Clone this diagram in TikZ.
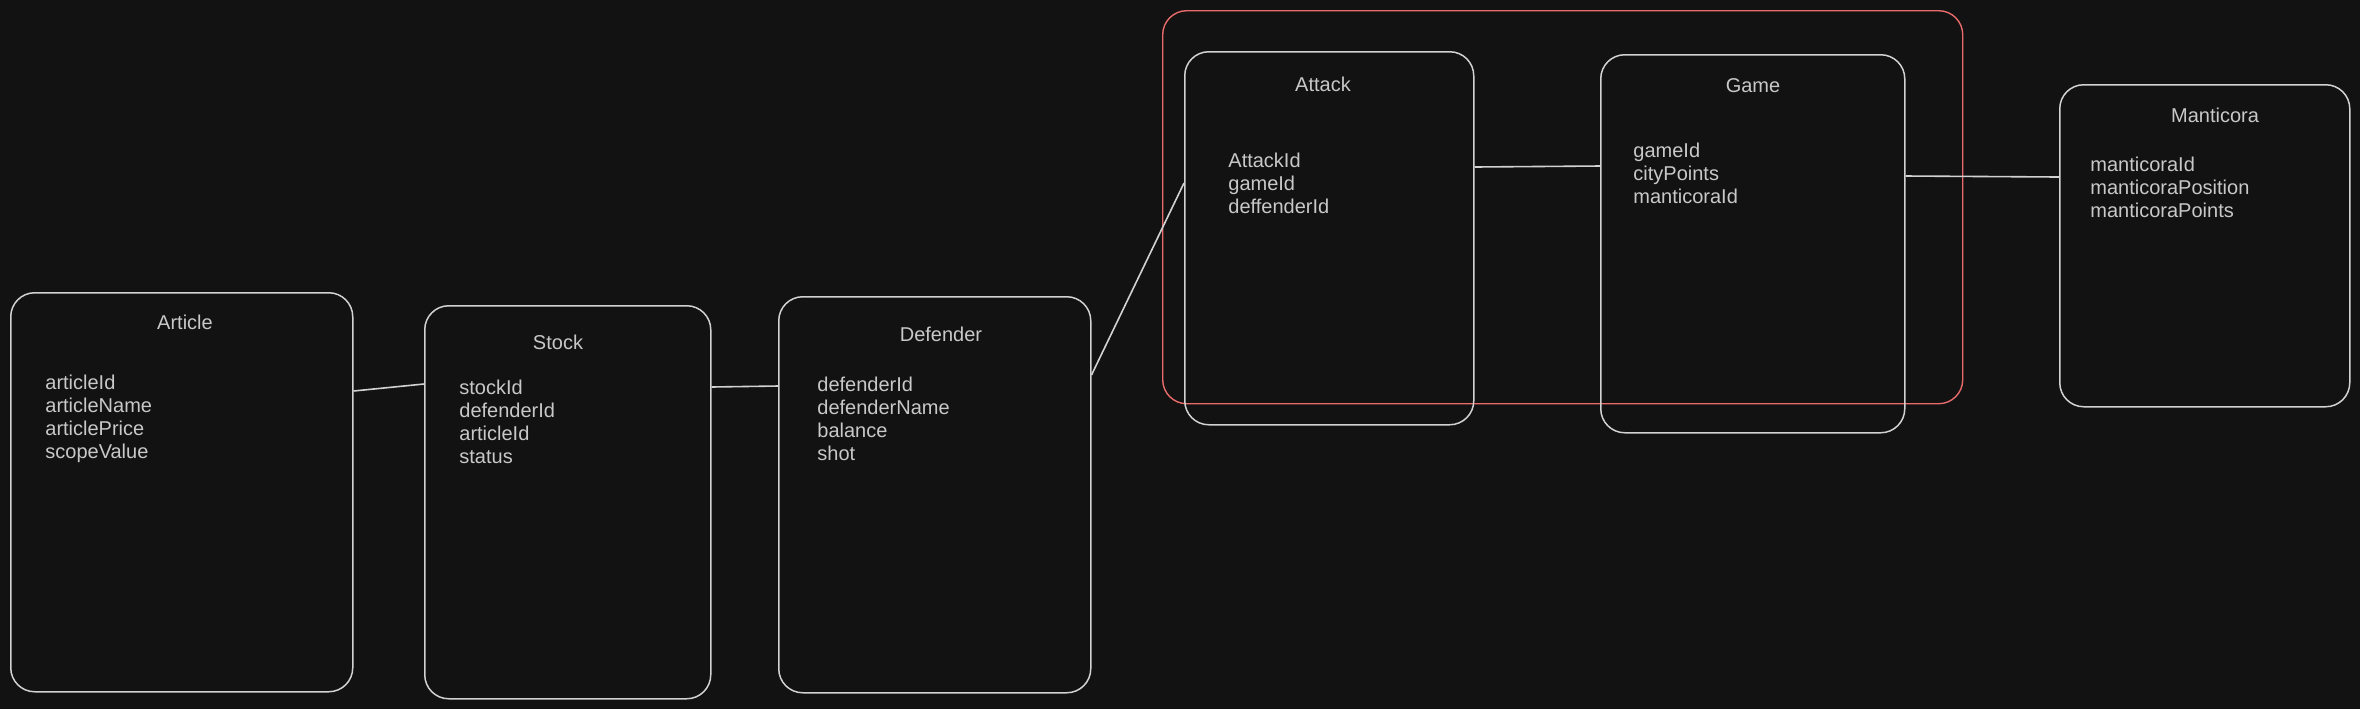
\documentclass[tikz,border=0pt]{standalone}
\usepackage{fontspec}
\setmainfont{Liberation Sans}
\usetikzlibrary{positioning}
\definecolor{bgdark}{HTML}{121212}
\definecolor{inkgray}{HTML}{D2D2D2}
\definecolor{textgray}{HTML}{C8C8C8}
\definecolor{groupred}{HTML}{E86A6A}
\begin{document}
\begin{tikzpicture}[x=0.5pt, y=-0.5pt,
    entity/.style={draw=inkgray, line width=0.75pt, rounded corners=12pt, anchor=north west, inner sep=0pt},
    frame/.style={draw=groupred, line width=0.7pt, rounded corners=12pt, anchor=north west, inner sep=0pt},
    title/.style={text=textgray, inner sep=0pt, font=\fontsize{10}{11.5}\selectfont},
    fields/.style={text=textgray, inner sep=0pt, align=left, anchor=north west, font=\fontsize{10}{11.5}\selectfont},
    link/.style={draw=inkgray, line width=0.8pt}]
  % Background (fixes the page size)
  \fill[bgdark] (0,0) rectangle (2360,709);

  % Red frame round Attack and Game
  \node[frame, minimum width=400pt, minimum height=196.5pt] (gameframe) at (1162,10) {};

  % Draw the entities
  \node[entity, minimum width=171pt, minimum height=199.5pt] (article) at (10,292) {};
  \node[title] (articletitle) at (185,322) {Article};
  \node[fields] (articlefields) at (45,375) {articleId\\articleName\\articlePrice\\scopeValue};

  \node[entity, minimum width=143pt, minimum height=196.5pt] (stock) at (424,305) {};
  \node[title] (stocktitle) at (558,342) {Stock};
  \node[fields] (stockfields) at (459,380) {stockId\\defenderId\\articleId\\status};

  \node[entity, minimum width=156pt, minimum height=198pt] (defender) at (778,296) {};
  \node[title] (defendertitle) at (941,334) {Defender};
  \node[fields] (defenderfields) at (817,377) {defenderId\\defenderName\\balance\\shot};

  \node[entity, minimum width=144.5pt, minimum height=186.5pt] (attack) at (1184,51) {};
  \node[title] (attacktitle) at (1323,84) {Attack};
  \node[fields] (attackfields) at (1228,153) {AttackId\\gameId\\deffenderId};

  \node[entity, minimum width=152pt, minimum height=189pt] (game) at (1600,54) {};
  \node[title] (gametitle) at (1753,86) {Game};
  \node[fields] (gamefields) at (1633,143) {gameId\\cityPoints\\manticoraId};

  \node[entity, minimum width=145pt, minimum height=161pt] (manticora) at (2059,84) {};
  \node[title] (manticoratitle) at (2215,115) {Manticora};
  \node[fields] (manticorafields) at (2090,157) {manticoraId\\manticoraPosition\\manticoraPoints};

  % Connect the entities
  \draw[link] ([yshift=-49.5pt]article.north east) -- ([yshift=-39.5pt]stock.north west);
  \draw[link] ([yshift=-41pt]stock.north east) -- ([yshift=-45pt]defender.north west);
  \draw[link] ([yshift=-39.5pt]defender.north east) -- ([yshift=-66pt]attack.north west);
  \draw[link] ([yshift=-58pt]attack.north east) -- ([yshift=-56pt]game.north west);
  \draw[link] ([yshift=-61pt]game.north east) -- ([yshift=-46.5pt]manticora.north west);
\end{tikzpicture}
\end{document}
